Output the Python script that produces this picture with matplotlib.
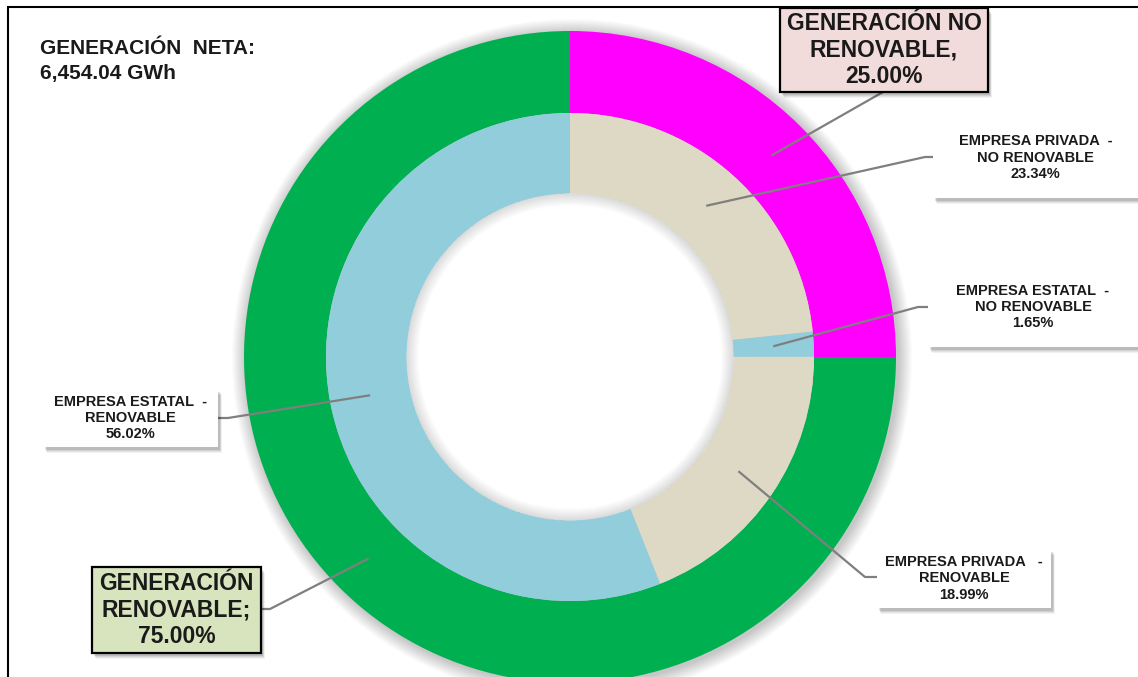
import numpy as np
import matplotlib.pyplot as plt
from matplotlib.patches import Rectangle, Circle, Wedge

plt.rcParams['font.family'] = ['Liberation Sans', 'DejaVu Sans']

# Data
total_gwh = 6454.04
outer_labels = ['GENERACIÓN NO\nRENOVABLE,', 'GENERACIÓN\nRENOVABLE;']
outer_values = [25.00, 75.00]
outer_colors = ['#FF00FF', '#00B050']
outer_boxcolors = ['#F2DCDB', '#D7E4BD']

inner_labels = ['EMPRESA PRIVADA  -\nNO RENOVABLE',
                'EMPRESA ESTATAL  -\nNO RENOVABLE',
                'EMPRESA PRIVADA   -\nRENOVABLE',
                'EMPRESA ESTATAL  -\nRENOVABLE']
inner_values = [23.34, 1.65, 18.99, 56.02]
inner_colors = ['#DDD9C4', '#92CDDC', '#DDD9C4', '#92CDDC']

# Layout (pixel coordinates, y up)
W, H = 1138, 677
cx, cy = 570, 320
r_out, w_out = 326, 82
r_in, w_in = 244, 81

# boxes: (x0, y0, x1, y1), leader end on box, elbow point (or None)
outer_boxes = [((780, 585, 988, 669), (883, 585), None),
               ((92, 24, 261, 110), (261, 68), (270, 68))]
inner_boxes = [((933, 479, 1142, 560), (933, 520), (925, 520)),
               ((928, 330, 1142, 410), (928, 370), (918, 370)),
               ((877, 69, 1051, 128), (877, 100), (865, 100)),
               ((43, 230, 218, 288), (218, 259), (228, 259))]

fig = plt.figure(figsize=(W / 100, H / 100), dpi=100)
ax = fig.add_axes([0, 0, 1, 1])

# soft shadow around the ring
for k in range(1, 15):
    ax.add_patch(Circle((cx + 2, cy - 2), r_out + k, color='k', alpha=0.014,
                        lw=0, zorder=0))

wedges_out, _ = ax.pie(outer_values, radius=r_out, center=(cx, cy),
                       startangle=90, counterclock=False, colors=outer_colors,
                       wedgeprops=dict(width=w_out, linewidth=0))
wedges_in, _ = ax.pie(inner_values, radius=r_in, center=(cx, cy),
                      startangle=90, counterclock=False, colors=inner_colors,
                      wedgeprops=dict(width=w_in, linewidth=0))

# white hole with a faint inner shadow
r_hole = r_in - w_in
ax.add_patch(Circle((cx, cy), r_hole + 0.5, color='white', lw=0, zorder=2))
for k in range(1, 13):
    ax.add_patch(Wedge((cx, cy), r_hole + 0.5, 0, 360, width=k, color='k',
                       alpha=0.011, lw=0, zorder=3))


def anchor(wedge, r_mid):
    ang = np.deg2rad((wedge.theta1 + wedge.theta2) / 2)
    return cx + r_mid * np.cos(ang), cy + r_mid * np.sin(ang)


def draw_box(box, face, edge):
    x0, y0, x1, y1 = box
    for k, a in [(6, 0.05), (5, 0.06), (4, 0.08), (3, 0.1)]:
        ax.add_patch(Rectangle((x0 + k * 0.7, y0 - k), x1 - x0, y1 - y0,
                               color='k', alpha=a, lw=0, zorder=5))
    ax.add_patch(Rectangle((x0, y0), x1 - x0, y1 - y0, facecolor=face,
                           edgecolor=edge if edge else face,
                           lw=1.6 if edge else 0, zorder=6))


def leader(p, elbow, end):
    pts = [p] + ([elbow] if elbow else []) + [end]
    xs, ys = zip(*pts)
    ax.plot(xs, ys, color='#7F7F7F', lw=1.6, zorder=4, solid_capstyle='butt')


for wdg, lab, val, bc, (box, end, elbow) in zip(wedges_out, outer_labels, outer_values,
                                                outer_boxcolors, outer_boxes):
    leader(anchor(wdg, r_out - w_out / 2), elbow, end)
    draw_box(box, bc, 'black')
    ax.text((box[0] + box[2]) / 2, (box[1] + box[3]) / 2, f'{lab}\n{val:.2f}%',
            ha='center', va='center', fontsize=16.5, fontweight='bold',
            linespacing=1.17, color='#1a1a1a', zorder=7)

for wdg, lab, val, (box, end, elbow) in zip(wedges_in, inner_labels, inner_values,
                                            inner_boxes):
    leader(anchor(wdg, r_in - w_in / 2), elbow, end)
    draw_box(box, 'white', None)
    ax.text((box[0] + min(box[2], W)) / 2, (box[1] + box[3]) / 2, f'{lab}\n{val:.2f}%',
            ha='center', va='center', fontsize=10.5, fontweight='bold',
            linespacing=1.2, color='#1a1a1a', zorder=7)

# title text
ax.text(40, 616, f'GENERACIÓN  NETA:\n{total_gwh:,.2f} GWh', ha='left', va='center',
        fontsize=15, fontweight='bold', linespacing=1.35, color='#1a1a1a')

# frame
ax.add_patch(Rectangle((8, -20), W + 20, 670 + 20, fill=False, edgecolor='black',
                       lw=1.5, zorder=10))

ax.set_xlim(0, W)
ax.set_ylim(0, H)
ax.set_aspect('equal')
ax.axis('off')
fig.savefig('out.png', dpi=100)
